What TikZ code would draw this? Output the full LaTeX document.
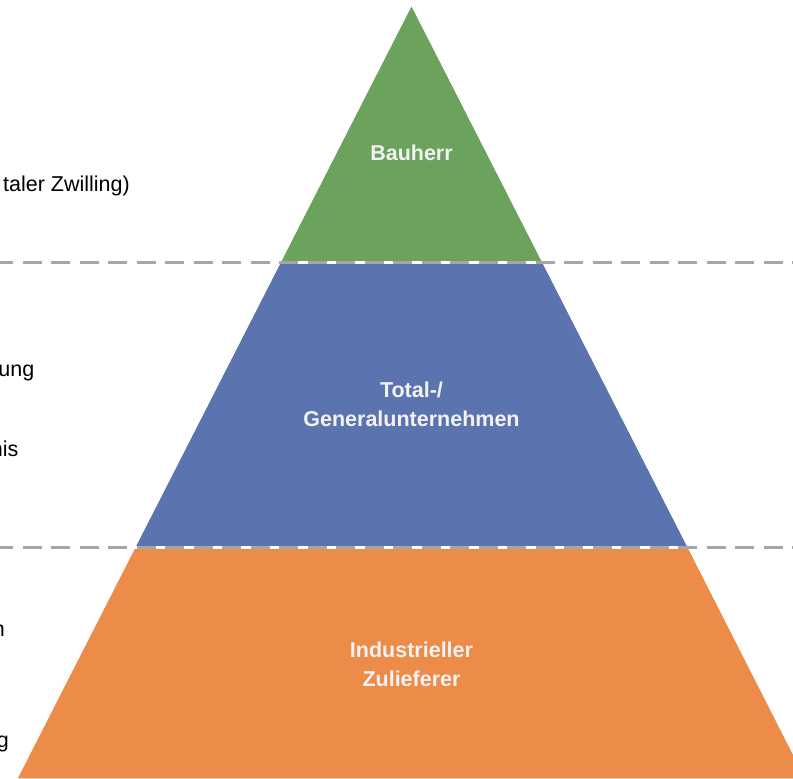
\documentclass[tikz,border=0pt]{standalone}
\usepackage{fontspec}
\setmainfont{Liberation Sans}
\usepackage{tikz}

\definecolor{levelgreen}{HTML}{6BA35C}
\definecolor{levelblue}{HTML}{5B74B0}
\definecolor{levelorange}{HTML}{ED8B49}
\definecolor{sepgray}{HTML}{A6A6A6}
\definecolor{labelwhite}{HTML}{F2F2F2}

\tikzset{
    level/.style={draw=white, line width=0.8pt},
    levellabel/.style={text=labelwhite, font=\fontsize{21.5}{29}\selectfont\bfseries, align=center},
    sidetext/.style={font=\fontsize{21.5}{26}\selectfont, anchor=base east, inner sep=0pt},
    separator/.style={sepgray, line width=3pt, dash pattern=on 19pt off 9.5pt, dash phase=6pt}
}

\begin{document}
\begin{tikzpicture}[x=1pt, y=-1pt]
        \useasboundingbox (0,0) rectangle (793,779);

        \coordinate (apex) at (411.5,5);
        \coordinate (topL) at (280.4,262);
        \coordinate (topR) at (542.6,262);
        \coordinate (midL) at (135,547);
        \coordinate (midR) at (688,547);
        \coordinate (botL) at (16.8,779);
        \coordinate (botR) at (806,779);

        \fill[level, fill=levelgreen] (apex) -- (topR) -- (topL) -- cycle;
        \fill[level, fill=levelblue] (topL) -- (topR) -- (midR) -- (midL) -- cycle;
        \fill[level, fill=levelorange] (midL) -- (midR) -- (botR) -- (botL) -- cycle;
        \draw[level] (apex) -- (topR) -- (topL) -- cycle;
        \draw[level] (topL) -- (topR) -- (midR) -- (midL) -- cycle;
        \draw[level] (midL) -- (midR) -- (botR) -- (botL) -- cycle;

        \coordinate (sep1L) at (0,262);
        \coordinate (sep1R) at (793,262);
        \coordinate (sep2L) at (0,547);
        \coordinate (sep2R) at (793,547);
        \draw[white, line width=3pt] (topL) -- (topR);
        \draw[white, line width=3pt] (midL) -- (midR);
        \draw[separator] (sep1L) -- (sep1R);
        \draw[separator] (sep2L) -- (sep2R);

        \node[levellabel] (bauherr) at (411.5,153) {Bauherr};
        \node[levellabel] (gu) at (411.5,404.5) {Total-/\\Generalunternehmen};
        \node[levellabel] (zulieferer) at (411.5,664.5) {Industrieller\\Zulieferer};

        \node[sidetext] (side1) at (130,191.5) {taler Zwilling)};
        \node[sidetext] (side2) at (34.5,376.5) {ung};
        \node[sidetext] (side3) at (18.5,456) {nis};
        \node[sidetext] (side4) at (5,636.5) {n};
        \node[sidetext] (side5) at (9,747.5) {g};
\end{tikzpicture}
\end{document}
